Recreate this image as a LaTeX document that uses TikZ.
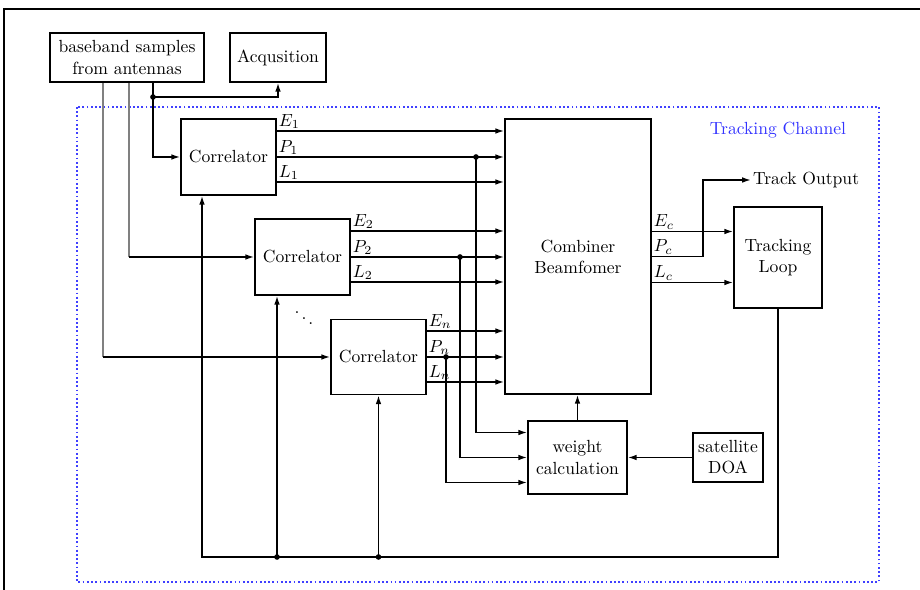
\documentclass[tikz,border=0pt]{standalone}
\usetikzlibrary{arrows.meta,calc}
\begin{document}
\begin{tikzpicture}[x=0.02cm,y=-0.02cm,
    block/.style={draw,line width=0.9pt,align=center,inner sep=2pt},
    sig/.style={-{Latex[length=5pt,width=3.2pt]},line width=0.9pt},
    wire/.style={line width=0.9pt},
    lab/.style={anchor=south west,inner sep=0.8pt}]
  \useasboundingbox (0,0) rectangle (920,590);
  \draw[line width=0.9pt] (920,9) -- (4,9) -- (4,590);
  \draw[blue!75,line width=1pt,dash pattern=on 1pt off 1.4pt] (77,107) rectangle (879,582);
  \node[text=blue!80] (tc) at (778,130) {Tracking Channel};
  % blocks
  \node[block,minimum width=3.08cm,minimum height=0.98cm] (bb) at (127,57.5) {baseband samples\\from antennas};
  \node[block,minimum width=1.92cm,minimum height=0.98cm] (acq) at (278,57.5) {Acqusition};
  \node[block,minimum width=1.9cm,minimum height=1.52cm] (cor1) at (228.5,157) {Correlator};
  \node[block,minimum width=1.9cm,minimum height=1.52cm] (cor2) at (302.5,257) {Correlator};
  \node[block,minimum width=1.9cm,minimum height=1.5cm] (corn) at (378.5,357) {Correlator};
  \node (dd) at (304,313) {$\ddots$};
  \node[block,minimum width=2.92cm,minimum height=5.5cm] (comb) at (578,256.5) {Combiner\\Beamfomer};
  \node[block,minimum width=1.76cm,minimum height=2.02cm] (loop) at (778,257.5) {Tracking\\Loop};
  \node[block,minimum width=1.98cm,minimum height=1.46cm] (wcalc) at (577.5,457.5) {weight\\calculation};
  \node[block,minimum width=1.4cm,minimum height=0.98cm] (doa) at (728,457.5) {satellite\\DOA};
  \node[anchor=west,inner sep=1pt] (out) at (751,180) {Track Output};
  % samples to acquisition and correlators
  \coordinate (b0) at ([xshift=0.52cm]bb.south);
  \coordinate (b1) at (b0 |- 0,97);
  \draw[wire] (b0) -- (b1);
  \draw[sig] (b1) -| (acq.south);
  \draw[sig] (b1) |- (cor1.west);
  \fill (b1) circle (1.6pt);
  \coordinate (b2) at ([xshift=0.04cm]bb.south);
  \coordinate (b3) at ([xshift=-0.48cm]bb.south);
  \draw[wire,gray] (b2) -- (b2 |- cor2.west);
  \draw[sig] (b2 |- cor2.west) -- (cor2.west);
  \draw[wire,gray] (b3) -- (b3 |- corn.west);
  \draw[sig] (b3 |- corn.west) -- (corn.west);
  % correlator outputs
  \foreach \c/\k in {cor1/1,cor2/2,corn/n} {
    \coordinate (E\k) at ([yshift=0.52cm]\c.east);
    \coordinate (P\k) at (\c.east);
    \coordinate (L\k) at ([yshift=-0.5cm]\c.east);
    \draw[sig] (E\k) node[lab] {$E_\k$} -- (E\k -| comb.west);
    \draw[sig] (P\k) node[lab] {$P_\k$} -- (P\k -| comb.west);
    \draw[sig] (L\k) node[lab] {$L_\k$} -- (L\k -| comb.west);
  }
  % prompt outputs to weight calculation
  \coordinate (j1) at (P1 -| 476,0);
  \coordinate (j2) at (P2 -| 460,0);
  \coordinate (jn) at (Pn -| 446,0);
  \draw[sig] (j1) |- ([yshift=0.5cm]wcalc.west);
  \draw[sig] (j2) |- (wcalc.west);
  \draw[sig] (jn) |- ([yshift=-0.5cm]wcalc.west);
  \foreach \j in {j1,j2,jn} \fill (\j) circle (1.6pt);
  \draw[sig] (wcalc.north) -- (wcalc.north |- comb.south);
  \draw[sig] (doa.west) -- (wcalc.east);
  % combiner outputs
  \coordinate (Ec) at ([yshift=0.5cm]comb.east);
  \coordinate (Pc) at (comb.east);
  \coordinate (Lc) at ([yshift=-0.52cm]comb.east);
  \draw[sig] (Ec) node[lab] {$E_c$} -- (Ec -| loop.west);
  \draw[sig] (Lc) node[lab] {$L_c$} -- (Lc -| loop.west);
  \draw[sig] (Pc) node[lab] {$P_c$} -- ++(1.02cm,0) |- (out.west);
  % feedback
  \coordinate (fb) at (0,557);
  \coordinate (f1) at ([xshift=-0.53cm]cor1.south);
  \coordinate (f2) at ([xshift=-0.51cm]cor2.south);
  \draw[sig] (loop.south) |- (f1 |- fb) -- (f1);
  \draw[sig] (f2 |- fb) -- (f2);
  \draw[sig] (corn.south |- fb) -- (corn.south);
  \fill (f2 |- fb) circle (1.6pt);
  \fill (corn.south |- fb) circle (1.6pt);
\end{tikzpicture}
\end{document}
